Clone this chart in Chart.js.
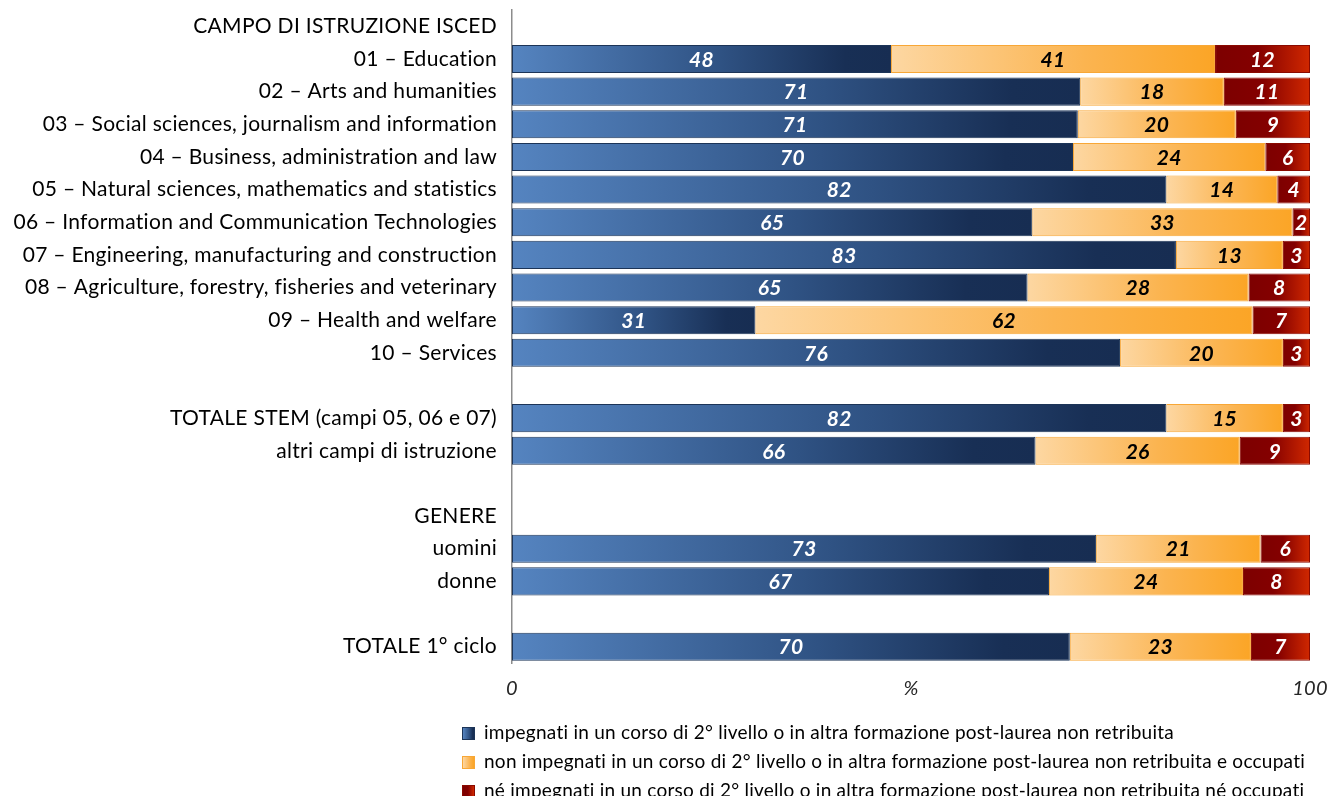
<!DOCTYPE html>
<html>
<head>
<meta charset="utf-8">
<script src="https://cdn.jsdelivr.net/npm/chart.js@4.4.1/dist/chart.umd.min.js"></script>
<style>
  body { margin: 0; background: #fff; font-family: Lato, sans-serif; }
  #box { position: relative; width: 1330px; height: 796px; overflow: hidden; }
  #legenda { position: absolute; left: 462px; top: 718px; font-size: 19px; color: #000;
             letter-spacing: 0.25px; font-variant-ligatures: none; }
  #legenda div { height: 29px; line-height: 27px; white-space: nowrap; }
  #legenda span { display: inline-block; width: 11px; height: 11px; margin-right: 9px; vertical-align: -1px; }
</style>
</head>
<body>
<div id="box">
  <canvas id="grafico" width="1330" height="796"></canvas>
  <div id="legenda"></div>
</div>
<script>
// Dati (percentuali)
const categorie = [
    'CAMPO DI ISTRUZIONE ISCED',
    '01 – Education',
    '02 – Arts and humanities',
    '03 – Social sciences, journalism and information',
    '04 – Business, administration and law',
    '05 – Natural sciences, mathematics and statistics',
    '06 – Information and Communication Technologies',
    '07 – Engineering, manufacturing and construction',
    '08 – Agriculture, forestry, fisheries and veterinary',
    '09 – Health and welfare',
    '10 – Services',
    '',
    'TOTALE STEM (campi 05, 06 e 07)',
    'altri campi di istruzione',
    '',
    'GENERE',
    'uomini',
    'donne',
    '',
    'TOTALE 1° ciclo'
];
const impegnati  = [null, 47.5, 71.2, 70.9, 70.3, 82.0, 65.2, 83.2, 64.6, 30.5, 76.2, null, 82.0, 65.6, null, null, 73.2, 67.3, null, 69.9];
const occupati   = [null, 40.6, 18.0, 19.8, 24.1, 13.9, 32.6, 13.4, 27.7, 62.3, 20.4, null, 14.6, 25.6, null, null, 20.6, 24.3, null, 22.7];
const neOccupati = [null, 11.9, 10.8,  9.3,  5.6,  4.1,  2.2,  3.4,  7.7,  7.2,  3.4, null,  3.4,  8.8, null, null,  6.2,  8.4, null,  7.4];
const tickValori = [0, 50, 100];
const tickEtichette = ['0', '%', '100'];
const nomiSerie = [
    'impegnati in un corso di 2° livello o in altra formazione post-laurea non retribuita',
    'non impegnati in un corso di 2° livello o in altra formazione post-laurea non retribuita e occupati',
    'né impegnati in un corso di 2° livello o in altra formazione post-laurea non retribuita né occupati'
];

const fontBase = 'Lato, sans-serif';

// colori sfumati per ogni serie: [stop, colore]
const sfumature = [
    [[0, '#5584c0'], [0.55, '#2f5283'], [0.88, '#182f55'], [1, '#172d52']],
    [[0, '#fdd7a2'], [0.6, '#fbb450'], [1, '#fba526']],
    [[0, '#7d0000'], [0.45, '#840000'], [1, '#d02800']]
];
const bordi = ['#1c3457', '#f8a736', '#8a0a00'];
const coloriTesto = ['#ffffff', '#000000', '#ffffff'];

// Crea il gradiente orizzontale per il singolo segmento della barra
function coloreBarra(context) {
    const chart = context.chart;
    const s = context.datasetIndex;
    const stops = sfumature[s];
    if (context.type !== 'data' || !chart.chartArea) return stops[1][1];
    const i = context.dataIndex;
    const v = chart.data.datasets[s].data[i];
    if (v == null) return stops[1][1];
    let inizio = 0;
    for (let k = 0; k < s; k++) inizio += chart.data.datasets[k].data[i] || 0;
    const x0 = chart.scales.x.getPixelForValue(inizio);
    const x1 = chart.scales.x.getPixelForValue(inizio + v);
    const g = chart.ctx.createLinearGradient(x0, 0, x1, 0);
    stops.forEach(st => g.addColorStop(st[0], st[1]));
    return g;
}

// Spaziatura minima tra le lettere: niente legature "ti", come nell'originale
const spaziatura = {
    id: 'spaziatura',
    beforeDraw(chart) { chart.ctx.letterSpacing = '0.3px'; }
};

// Etichette dei valori al centro di ogni segmento
const etichetteValori = {
    id: 'etichetteValori',
    afterDatasetsDraw(chart) {
        const c = chart.ctx;
        c.save();
        c.font = 'italic bold 21px ' + fontBase;
        c.textAlign = 'center';
        c.textBaseline = 'middle';
        chart.data.datasets.forEach((ds, s) => {
            const meta = chart.getDatasetMeta(s);
            meta.data.forEach((el, i) => {
                const v = ds.data[i];
                if (v == null) return;
                c.fillStyle = coloriTesto[s];
                c.fillText(Math.round(v), (el.x + el.base) / 2, el.y + 1);
            });
        });
        c.restore();
    }
};

const serie = [impegnati, occupati, neOccupati];
const ctx = document.getElementById('grafico').getContext('2d');
new Chart(ctx, {
    type: 'bar',
    data: {
        labels: categorie,
        datasets: serie.map((d, s) => ({
            label: nomiSerie[s],
            data: d,
            backgroundColor: coloreBarra,
            borderColor: bordi[s],
            borderWidth: 1,
            borderSkipped: false,
            barPercentage: 0.86,
            categoryPercentage: 1
        }))
    },
    options: {
        indexAxis: 'y',
        responsive: false,
        animation: false,
        layout: { padding: { top: 10, right: 20, bottom: 81, left: 0 } },
        plugins: { legend: { display: false }, tooltip: { enabled: false } },
        scales: {
            x: {
                stacked: true,
                min: 0,
                max: 100,
                grid: { display: false, drawTicks: false },
                border: { display: false },
                afterBuildTicks: scala => { scala.ticks = tickValori.map(v => ({ value: v })); },
                afterFit: scala => { scala.paddingLeft = 0; scala.paddingRight = 0; },
                ticks: {
                    padding: 14,
                    color: '#262626',
                    font: { family: fontBase, size: 20, style: 'italic' },
                    callback: (v, idx) => tickEtichette[tickValori.indexOf(v)]
                }
            },
            y: {
                stacked: true,
                grid: { display: false, drawTicks: false },
                border: { display: true, color: '#8c8c8c', width: 1.5 },
                afterFit: scala => { scala.width = 512; scala.paddingTop = 0; scala.paddingBottom = 0; },
                ticks: {
                    padding: 15,
                    autoSkip: false,
                    color: '#000000',
                    font: { family: fontBase, size: 21 }
                }
            }
        }
    },
    plugins: [spaziatura, etichetteValori]
});

// Legenda in HTML
const legenda = document.getElementById('legenda');
nomiSerie.forEach((nome, s) => {
    const riga = document.createElement('div');
    const q = document.createElement('span');
    const st = sfumature[s];
    q.style.background = 'linear-gradient(to right, ' + st.map(x => x[1] + ' ' + (x[0] * 100) + '%').join(', ') + ')';
    q.style.border = '1px solid ' + bordi[s];
    riga.appendChild(q);
    riga.appendChild(document.createTextNode(nome));
    legenda.appendChild(riga);
});
</script>
</body>
</html>
